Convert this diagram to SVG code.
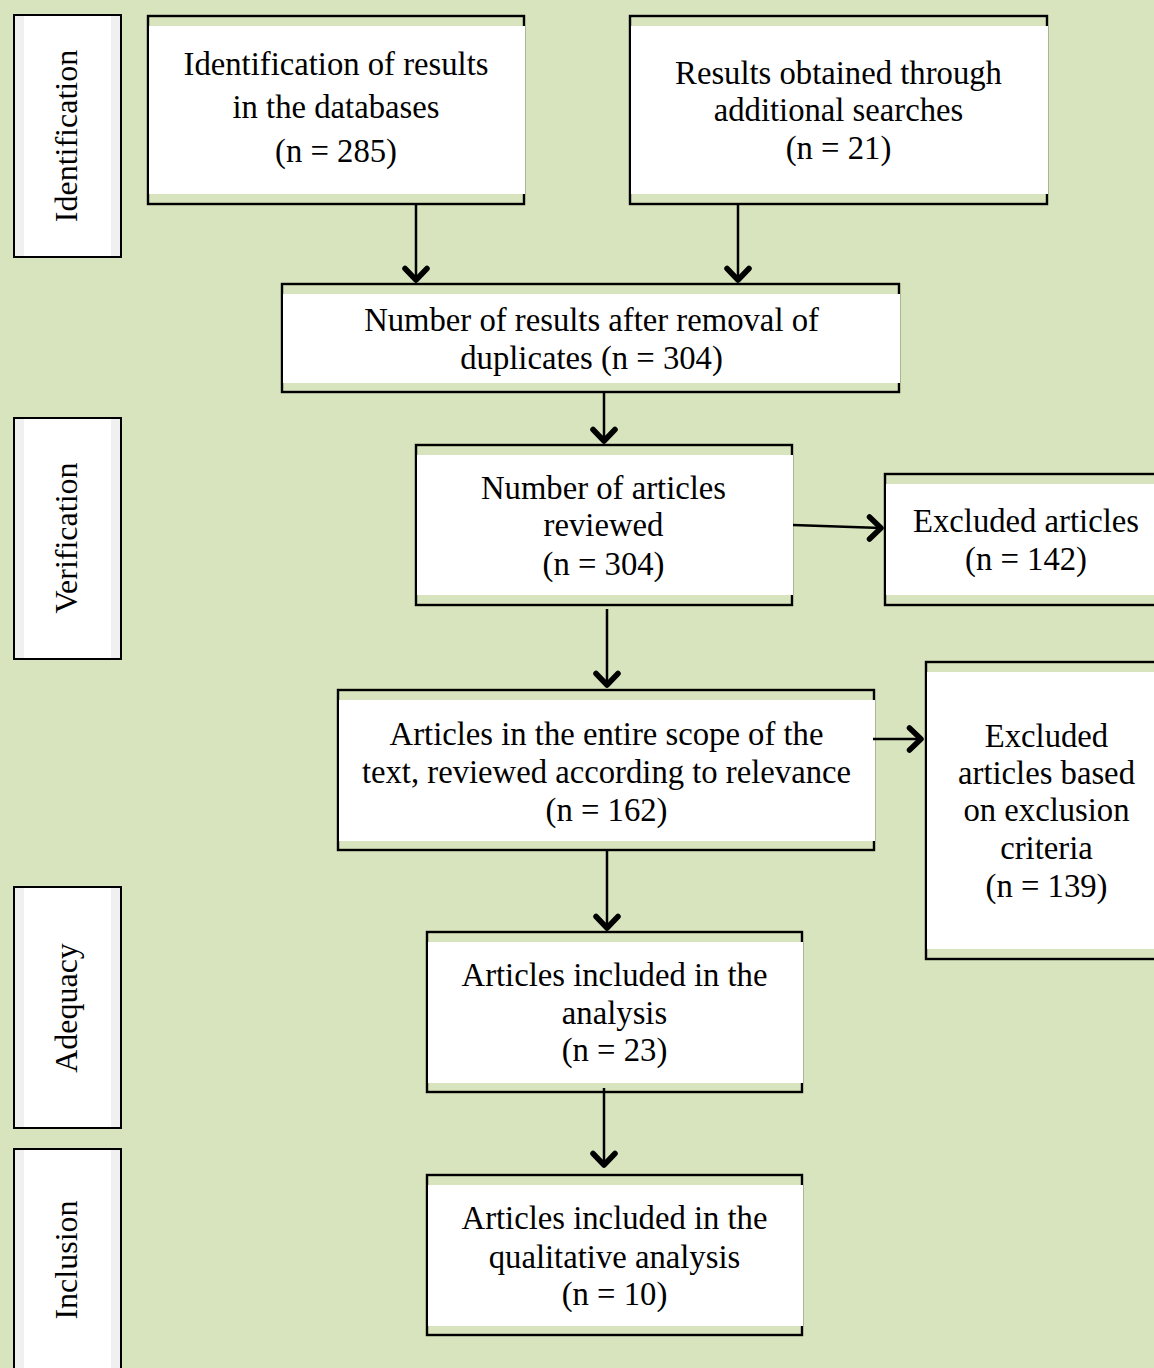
<svg xmlns="http://www.w3.org/2000/svg" width="1154" height="1368" viewBox="0 0 1154 1368">
<style>
.frame{fill:#d7e4bd;stroke:#000;stroke-width:2.4}
.inner{fill:#fff}
.side{fill:#f0f0f0;stroke:#000;stroke-width:2}
.t{font-family:"Liberation Serif","Times New Roman",serif;font-size:32.7px;fill:#000;text-anchor:middle}
.s{font-family:"Liberation Serif","Times New Roman",serif;font-size:32px;fill:#000;text-anchor:middle}
.c{fill:none;stroke:#000;stroke-width:2.5}
.h{fill:none;stroke:#000;stroke-width:5.5;stroke-linecap:round;stroke-linejoin:round}
</style>
<defs>
<path id="chevDown" class="h" d="M-11,-11.5 L0,0 L11,-11.5"/>
<path id="chevRight" class="h" d="M-11.5,-11 L0,0 L-11.5,11"/>
</defs>
<rect width="1154" height="1368" fill="#d7e4bd"/>

<g id="stage-identification">
<rect class="side" x="14" y="15" width="107" height="242"/>
<rect class="inner" x="24" y="16" width="87" height="240"/>
<text class="s" transform="translate(77,136) rotate(-90)">Identification</text>
</g>
<g id="stage-verification">
<rect class="side" x="14" y="418" width="107" height="241"/>
<rect class="inner" x="24" y="419" width="87" height="239"/>
<text class="s" transform="translate(77,538) rotate(-90)">Verification</text>
</g>
<g id="stage-adequacy">
<rect class="side" x="14" y="887" width="107" height="241"/>
<rect class="inner" x="24" y="888" width="87" height="239"/>
<text class="s" transform="translate(77,1008) rotate(-90)">Adequacy</text>
</g>
<g id="stage-inclusion">
<rect class="side" x="14" y="1149" width="107" height="240"/>
<rect class="inner" x="24" y="1150" width="87" height="238"/>
<text class="s" transform="translate(77,1260) rotate(-90)">Inclusion</text>
</g>

<g id="box-databases">
<rect class="frame" x="148" y="16" width="376" height="188"/>
<rect class="inner" x="149" y="26" width="376" height="168"/>
<text class="t" x="336" y="75">Identification of results</text>
<text class="t" x="336" y="118">in the databases</text>
<text class="t" x="336" y="162">(n = 285)</text>
</g>
<g id="box-additional">
<rect class="frame" x="630" y="16" width="417" height="188"/>
<rect class="inner" x="631" y="26" width="417" height="168"/>
<text class="t" x="838.5" y="84">Results obtained through</text>
<text class="t" x="838.5" y="121">additional searches</text>
<text class="t" x="838.5" y="159">(n = 21)</text>
</g>
<g id="box-duplicates">
<rect class="frame" x="282" y="284" width="617" height="108"/>
<rect class="inner" x="283" y="294" width="617" height="89"/>
<text class="t" x="591.5" y="331">Number of results after removal of</text>
<text class="t" x="591.5" y="369">duplicates (n = 304)</text>
</g>
<g id="box-reviewed">
<rect class="frame" x="416" y="445" width="376" height="160"/>
<rect class="inner" x="417" y="455" width="376" height="140"/>
<text class="t" x="603.5" y="499">Number of articles</text>
<text class="t" x="603.5" y="536">reviewed</text>
<text class="t" x="603.5" y="575">(n = 304)</text>
</g>
<g id="box-excluded-142">
<rect class="frame" x="885" y="474" width="280" height="131"/>
<rect class="inner" x="886" y="484" width="280" height="111"/>
<text class="t" x="1026" y="532">Excluded articles</text>
<text class="t" x="1026" y="570">(n = 142)</text>
</g>
<g id="box-fulltext">
<rect class="frame" x="338" y="690" width="536" height="160"/>
<rect class="inner" x="339" y="700" width="536" height="141"/>
<text class="t" x="606.5" y="745">Articles in the entire scope of the</text>
<text class="t" x="606.5" y="783">text, reviewed according to relevance</text>
<text class="t" x="606.5" y="821">(n = 162)</text>
</g>
<g id="box-excluded-139">
<rect class="frame" x="926" y="662" width="240" height="297"/>
<rect class="inner" x="927" y="672" width="240" height="277"/>
<text class="t" x="1046.5" y="747">Excluded</text>
<text class="t" x="1046.5" y="784">articles based</text>
<text class="t" x="1046.5" y="821">on exclusion</text>
<text class="t" x="1046.5" y="859">criteria</text>
<text class="t" x="1046.5" y="897">(n = 139)</text>
</g>
<g id="box-analysis">
<rect class="frame" x="427" y="932" width="375" height="160"/>
<rect class="inner" x="428" y="942" width="375" height="141"/>
<text class="t" x="614.5" y="986">Articles included in the</text>
<text class="t" x="614.5" y="1024">analysis</text>
<text class="t" x="614.5" y="1061">(n = 23)</text>
</g>
<g id="box-qualitative">
<rect class="frame" x="427" y="1175" width="375" height="160"/>
<rect class="inner" x="428" y="1185" width="375" height="141"/>
<text class="t" x="614.5" y="1229">Articles included in the</text>
<text class="t" x="614.5" y="1268">qualitative analysis</text>
<text class="t" x="614.5" y="1305">(n = 10)</text>
</g>

<g id="connectors">
<path class="c" d="M416,205 L416,280"/>
<use href="#chevDown" x="416" y="280"/>
<path class="c" d="M738,205 L738,280"/>
<use href="#chevDown" x="738" y="280"/>
<path class="c" d="M604,393 L604,441"/>
<use href="#chevDown" x="604" y="441"/>
<path class="c" d="M607,609 L607,685"/>
<use href="#chevDown" x="607" y="685"/>
<path class="c" d="M607,851 L607,928"/>
<use href="#chevDown" x="607" y="928"/>
<path class="c" d="M604,1088 L604,1165"/>
<use href="#chevDown" x="604" y="1165"/>
<path class="c" d="M793,525 L881,528"/>
<use href="#chevRight" x="881" y="528"/>
<path class="c" d="M873,739 L921,739"/>
<use href="#chevRight" x="921" y="739"/>
</g>
</svg>
